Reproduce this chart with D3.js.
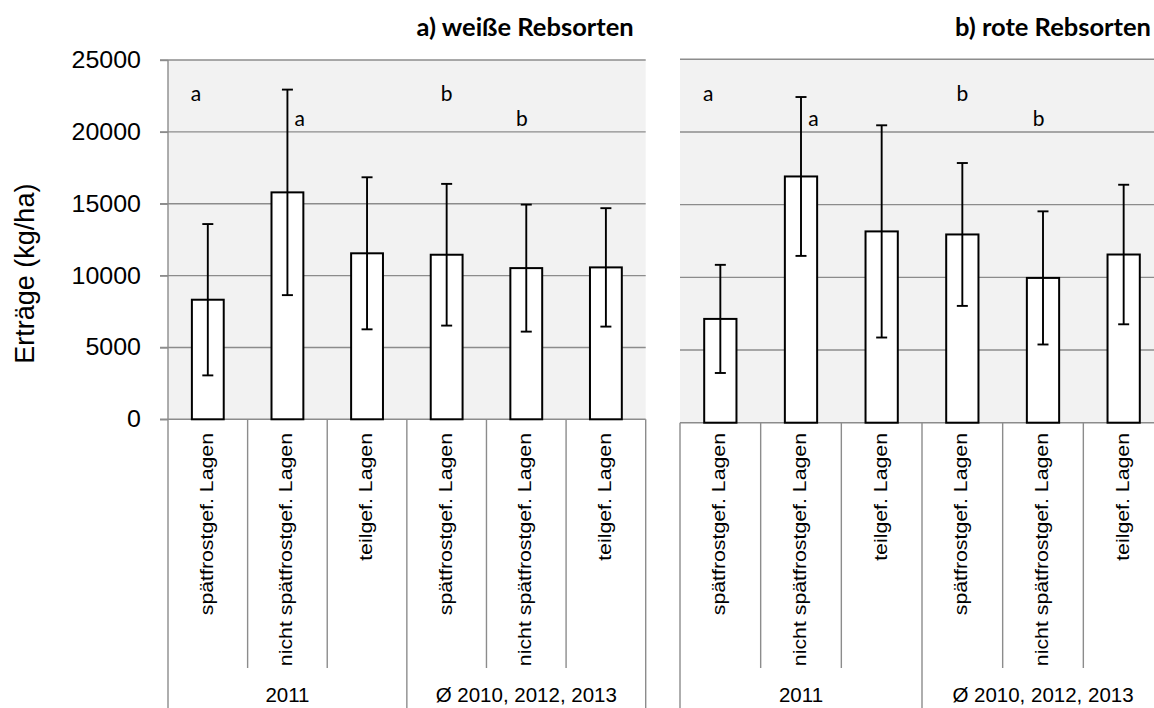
<!DOCTYPE html>
<html><head><meta charset="utf-8">
<script src="https://cdn.jsdelivr.net/npm/d3@7"></script>
<style>body{margin:0;background:#fff;overflow:hidden}</style>
</head><body>
<svg id="c" width="1154" height="708"></svg>
<script>
// ---- data ----
const categories = ["spätfrostgef. Lagen","nicht spätfrostgef. Lagen","teilgef. Lagen","spätfrostgef. Lagen","nicht spätfrostgef. Lagen","teilgef. Lagen"];
const groups = ["2011","Ø 2010, 2012, 2013"];
const groupOf = [0,0,0,1,1,1];
const whiteMean = [8320,15790,11550,11450,10520,10570];
const whiteSD   = [5265,7150,5290,4930,4420,4120];
const redMean   = [7140,16940,13160,12950,9960,11570];
const redSD     = [3720,5465,7300,4915,4580,4800];
const letters   = ["a","a","","b","b",""];
const letterRow = [1,2,0,1,2,0];
const yTicks    = [0,5000,10000,15000,20000,25000];
const titles    = ["a) weiße Rebsorten","b) rote Rebsorten"];
const yTitle    = "Erträge (kg/ha)";

// ---- layout ----
const svg = d3.select("#c");
const panels = [
  {x0:168, x1:645.7, yTop:60, yBase:419.3, mean:whiteMean, sd:whiteSD, title:titles[0], axis:true},
  {x0:680, x1:1164, yTop:59.3, yBase:422.7, mean:redMean, sd:redSD, title:titles[1], axis:false}
];
const letterDx = [-0.15,0.155,0,0,-0.055,0];
const letterVal = {1:22730, 2:21020};
const sepInnerBottom = 668, sepOuterBottom = 708;
const gridColor = "#8c8c8c";
const sans = "Liberation Sans, Arial, sans-serif";

panels.forEach(p => {
  const idx = d3.range(categories.length);
  const x = d3.scaleBand().domain(idx).range([p.x0, p.x1]).paddingInner(0.6).paddingOuter(0.3);
  const cell = d3.scaleBand().domain(idx).range([p.x0, p.x1]);
  const y = d3.scaleLinear().domain([0,25000]).range([p.yBase, p.yTop]);
  const g = svg.append("g");

  // background
  g.append("rect").attr("x", p.x0).attr("y", y(25000)).attr("width", p.x1 - p.x0)
    .attr("height", y(0) - y(25000)).attr("fill", "#f2f2f2");

  // gridlines
  g.selectAll(".grid").data(yTicks.filter(t => t > 0)).join("line")
    .attr("x1", p.axis ? p.x0 - 8 : p.x0).attr("x2", p.x1)
    .attr("y1", d => y(d)).attr("y2", d => y(d))
    .attr("stroke", gridColor).attr("stroke-width", 1.4);

  // y axis
  if (p.axis) {
    const ax = g.append("g").attr("transform", `translate(${p.x0},0)`)
      .call(d3.axisLeft(y).tickValues(yTicks).tickSize(8).tickPadding(19).tickFormat(d3.format("d")));
    ax.select(".domain").remove();
    ax.selectAll(".tick line").attr("stroke", gridColor).attr("stroke-width", 1.4);
    ax.selectAll(".tick text").attr("font-family", sans)
      .attr("font-size", 25).attr("fill", "#000").attr("transform", "scale(1,0.93)");
    g.append("line").attr("x1", p.x0).attr("x2", p.x0).attr("y1", y(25000)).attr("y2", sepOuterBottom)
      .attr("stroke", gridColor).attr("stroke-width", 1.4);
    g.append("text").attr("transform", `translate(25,${(y(0)+y(25000))/2 + 34}) rotate(-90)`)
      .attr("text-anchor", "middle").attr("dominant-baseline", "central")
      .attr("font-family", sans).attr("font-size", 27)
      .text(yTitle);
  }

  // baseline
  g.append("line").attr("x1", p.axis ? p.x0 - 8 : p.x0).attr("x2", p.x1)
    .attr("y1", y(0)).attr("y2", y(0)).attr("stroke", gridColor).attr("stroke-width", 1.4);

  // category separators
  const seps = d3.range(categories.length + 1);
  g.selectAll(".sep").data(seps.filter(i => !(p.axis && i === 0))).join("line")
    .attr("x1", i => p.x0 + i * cell.step()).attr("x2", i => p.x0 + i * cell.step())
    .attr("y1", y(0)).attr("y2", i => (i % 3 === 0) ? sepOuterBottom : sepInnerBottom)
    .attr("stroke", gridColor).attr("stroke-width", 1.4);

  // bars
  g.selectAll(".bar").data(idx).join("rect")
    .attr("x", i => x(i)).attr("width", x.bandwidth())
    .attr("y", i => y(p.mean[i])).attr("height", i => y(0) - y(p.mean[i]))
    .attr("fill", "#fff").attr("stroke", "#000").attr("stroke-width", 2);

  // error bars
  const eb = g.selectAll(".eb").data(idx).join("g");
  const cx = i => x(i) + x.bandwidth() / 2;
  eb.append("line").attr("x1", cx).attr("x2", cx)
    .attr("y1", i => y(p.mean[i] + p.sd[i])).attr("y2", i => y(p.mean[i] - p.sd[i]))
    .attr("stroke", "#000").attr("stroke-width", 1.9);
  [1, -1].forEach(s => {
    eb.append("line").attr("x1", i => cx(i) - 5.5).attr("x2", i => cx(i) + 5.5)
      .attr("y1", i => y(p.mean[i] + s * p.sd[i])).attr("y2", i => y(p.mean[i] + s * p.sd[i]))
      .attr("stroke", "#000").attr("stroke-width", 1.9);
  });

  // letters
  g.selectAll(".let").data(idx.filter(i => letters[i])).join("text")
    .attr("x", i => cell(i) + cell.step() * (0.5 + letterDx[i]))
    .attr("y", i => y(letterVal[letterRow[i]]))
    .attr("text-anchor", "middle").attr("dominant-baseline", "central")
    .attr("font-family", "Lato, sans-serif").attr("font-size", 21)
    .text(i => letters[i]);

  // category labels
  g.selectAll(".cat").data(idx).join("text")
    .attr("transform", i => `translate(${cell(i) + cell.step()/2 + 5},433) rotate(-90) scale(1,0.9)`)
    .attr("text-anchor", "end")
    .attr("font-family", sans).attr("font-size", 21.3)
    .text(i => categories[i]);

  // group labels
  g.selectAll(".grp").data(groups).join("text")
    .attr("x", (d, gi) => p.x0 + (gi * 3 + 1.5) * cell.step())
    .attr("y", 702)
    .attr("text-anchor", "middle")
    .attr("font-family", sans).attr("font-size", 20.5)
    .text(d => d);

  // title
  g.append("text").attr("x", Math.min(p.x1, 1154) - (p.axis ? 12 : 3)).attr("y", 36)
    .attr("text-anchor", "end").attr("font-family", "Lato, sans-serif")
    .attr("font-weight", "bold").attr("font-size", 25.5).text(p.title);
});
</script>
</body></html>
